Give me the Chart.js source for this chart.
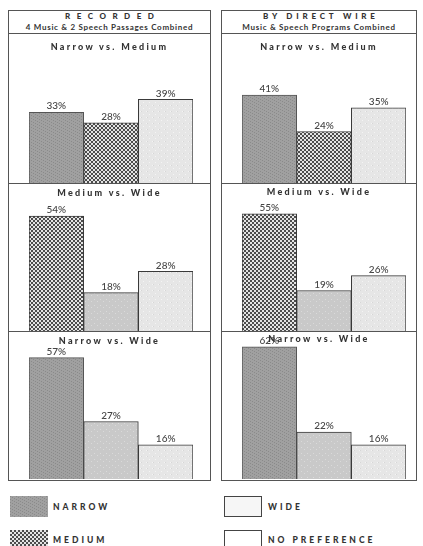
<!DOCTYPE html>
<html>
<head>
<meta charset="utf-8">
<script src="https://cdn.jsdelivr.net/npm/chart.js@4.4.0/dist/chart.umd.min.js"></script>
<style>
  body { margin: 0; width: 423px; height: 546px; background: #fff; position: relative; overflow: hidden;
         font-family: Lato, 'Open Sans', sans-serif; color: #333; }
  .box { position: absolute; border: 1px solid #555; box-sizing: border-box; }
  .line { position: absolute; height: 1px; background: #555; }
  .head1 { position: absolute; text-align: center; font-weight: 900; font-size: 8px; line-height: 10px; }
  .head2 { position: absolute; text-align: center; font-weight: 700; font-size: 8px; line-height: 9px; letter-spacing: 0.7px; }
  .ptitle { position: absolute; text-align: center; font-weight: 900; font-size: 9px; line-height: 10px; letter-spacing: 2.3px; z-index: 2; }
  canvas { position: absolute; }
  .sw { position: absolute; width: 38px; height: 21px; box-sizing: border-box; }
  .lg { position: absolute; font-weight: 900; font-size: 8.5px; line-height: 10px; letter-spacing: 3px; }
</style>
</head>
<body>
<!-- left block -->
<div class="box" style="left:8px;top:10px;width:203px;height:471px"></div>
<div class="line" style="left:8px;top:33px;width:203px"></div>
<div class="line" style="left:8px;top:183px;width:203px"></div>
<div class="line" style="left:8px;top:331px;width:203px"></div>
<div class="head1" style="left:8px;top:11px;width:203px;letter-spacing:6.5px;text-indent:6.5px">RECORDED</div>
<div class="head2" style="left:8px;top:23px;width:203px">4 Music &amp; 2 Speech Passages Combined</div>
<div class="ptitle" style="left:8px;top:42px;width:203px">Narrow vs. Medium</div>
<div class="ptitle" style="left:8px;top:188px;width:203px">Medium vs. Wide</div>
<div class="ptitle" style="left:8px;top:336px;width:203px">Narrow vs. Wide</div>
<canvas id="rec-1" width="201" height="148" style="left:9px;top:35px"></canvas>
<canvas id="rec-2" width="201" height="147" style="left:9px;top:184px"></canvas>
<canvas id="rec-3" width="201" height="147" style="left:9px;top:332px"></canvas>

<!-- right block -->
<div class="box" style="left:221px;top:10px;width:196px;height:471px"></div>
<div class="line" style="left:221px;top:33px;width:196px"></div>
<div class="line" style="left:221px;top:183px;width:196px"></div>
<div class="line" style="left:221px;top:331px;width:196px"></div>
<div class="head1" style="left:221px;top:11px;width:196px;letter-spacing:3.8px;text-indent:3.8px">BY DIRECT WIRE</div>
<div class="head2" style="left:221px;top:23px;width:196px">Music &amp; Speech Programs Combined</div>
<div class="ptitle" style="left:221px;top:42px;width:196px">Narrow vs. Medium</div>
<div class="ptitle" style="left:221px;top:187px;width:196px">Medium vs. Wide</div>
<div class="ptitle" style="left:221px;top:334px;width:196px">Narrow vs. Wide</div>
<canvas id="dir-1" width="194" height="148" style="left:222px;top:35px"></canvas>
<canvas id="dir-2" width="194" height="147" style="left:222px;top:184px"></canvas>
<canvas id="dir-3" width="194" height="147" style="left:222px;top:332px"></canvas>

<!-- legend -->
<div class="sw" id="sw-narrow" style="left:10px;top:496px"></div>
<div class="lg" style="left:53px;top:502px">NARROW</div>
<div class="sw" id="sw-medium" style="left:10px;top:530px"></div>
<div class="lg" style="left:53px;top:535px">MEDIUM</div>
<div class="sw" id="sw-wide" style="left:224px;top:496px;border:1.5px solid #444"></div>
<div class="lg" style="left:268px;top:502px">WIDE</div>
<div class="sw" id="sw-none" style="left:224px;top:530px;border:1.5px solid #444"></div>
<div class="lg" style="left:268px;top:535px">NO PREFERENCE</div>

<script>
// Values (percent preferring each option)
const recordedNarrowMedium = [33, 28, 39];
const recordedMediumWide = [54, 18, 28];
const recordedNarrowWide = [57, 27, 16];
const directNarrowMedium = [41, 24, 35];
const directMediumWide = [55, 19, 26];
const directNarrowWide = [62, 22, 16];

// Categories for each comparison
const narrowMediumLabels = ['Narrow', 'Medium', 'No Preference'];
const mediumWideLabels = ['Medium', 'Wide', 'No Preference'];
const narrowWideLabels = ['Narrow', 'Wide', 'No Preference'];

let charts = {};

// Build a repeating tile for the print-style fills
function makeTile(kind) {
  const c = document.createElement('canvas');
  const s = kind === 'medium' ? 4 : 6;
  c.width = s; c.height = s;
  const g = c.getContext('2d');
  if (kind === 'narrow') {
    g.fillStyle = '#a0a0a0';
    g.fillRect(0, 0, s, s);
    g.fillStyle = '#8a8a8a';
    for (let i = 0; i < s; i++) {
      g.fillRect((i * 2) % s, i, 1, 1);
    }
  } else if (kind === 'medium') {
    g.fillStyle = '#e4e4e4';
    g.fillRect(0, 0, s, s);
    g.fillStyle = '#4c4c4c';
    g.fillRect(0, 0, 2, 2);
    g.fillRect(2, 2, 2, 2);
  } else if (kind === 'wide') {
    g.fillStyle = '#c9c9c9';
    g.fillRect(0, 0, s, s);
    g.fillStyle = '#dadada';
    g.fillRect(1, 1, 1, 1);
    g.fillRect(4, 3, 1, 1);
  } else {
    g.fillStyle = '#e6e6e6';
    g.fillRect(0, 0, s, s);
    g.fillStyle = '#f4f4f4';
    g.fillRect(2, 1, 1, 1);
    g.fillRect(5, 4, 1, 1);
    g.fillStyle = '#d6d6d6';
    g.fillRect(0, 4, 1, 1);
  }
  return c;
}

const tiles = {
  'Narrow': makeTile('narrow'),
  'Medium': makeTile('medium'),
  'Wide': makeTile('wide'),
  'No Preference': makeTile('none')
};

// Legend swatches
document.getElementById('sw-narrow').style.background = 'url(' + tiles['Narrow'].toDataURL() + ')';
document.getElementById('sw-medium').style.background = 'url(' + tiles['Medium'].toDataURL() + ')';
document.getElementById('sw-wide').style.background = '#f6f6f6';
document.getElementById('sw-none').style.background = '#fff';

// Percent labels above bars
const valueLabels = {
  id: 'valueLabels',
  afterDatasetsDraw(chart) {
    const ctx = chart.ctx;
    const meta = chart.getDatasetMeta(0);
    const values = chart.data.datasets[0].data;
    ctx.save();
    ctx.font = '500 10px Lato';
    ctx.fillStyle = '#444';
    ctx.textAlign = 'center';
    ctx.textBaseline = 'bottom';
    meta.data.forEach((bar, i) => {
      ctx.fillText(values[i] + '%', bar.x, bar.y - 1);
    });
    ctx.restore();
  }
};

function createPanelChart(id, labels, values, padRight) {
  const ctx = document.getElementById(id).getContext('2d');
  const fills = labels.map(l => ctx.createPattern(tiles[l], 'repeat'));
  charts[id] = new Chart(ctx, {
    type: 'bar',
    data: {
      labels: labels,
      datasets: [{
        data: values,
        backgroundColor: fills,
        borderColor: labels.map(l => l === 'Narrow' ? '#555' : '#3a3a3a'),
        borderWidth: 1,
        borderSkipped: 'bottom',
        categoryPercentage: 1,
        barPercentage: 1
      }]
    },
    options: {
      responsive: false,
      devicePixelRatio: 1,
      animation: false,
      layout: { padding: { left: 20, right: padRight, top: 0, bottom: 0 } },
      plugins: {
        legend: { display: false },
        tooltip: { enabled: false }
      },
      scales: {
        x: { display: false, grid: { display: false } },
        y: { display: false, min: 0, max: 69, grid: { display: false } }
      }
    },
    plugins: [valueLabels]
  });
}

createPanelChart('rec-1', narrowMediumLabels, recordedNarrowMedium, 17);
createPanelChart('rec-2', mediumWideLabels, recordedMediumWide, 17);
createPanelChart('rec-3', narrowWideLabels, recordedNarrowWide, 17);
createPanelChart('dir-1', narrowMediumLabels, directNarrowMedium, 10);
createPanelChart('dir-2', mediumWideLabels, directMediumWide, 10);
createPanelChart('dir-3', narrowWideLabels, directNarrowWide, 10);
</script>
</body>
</html>
